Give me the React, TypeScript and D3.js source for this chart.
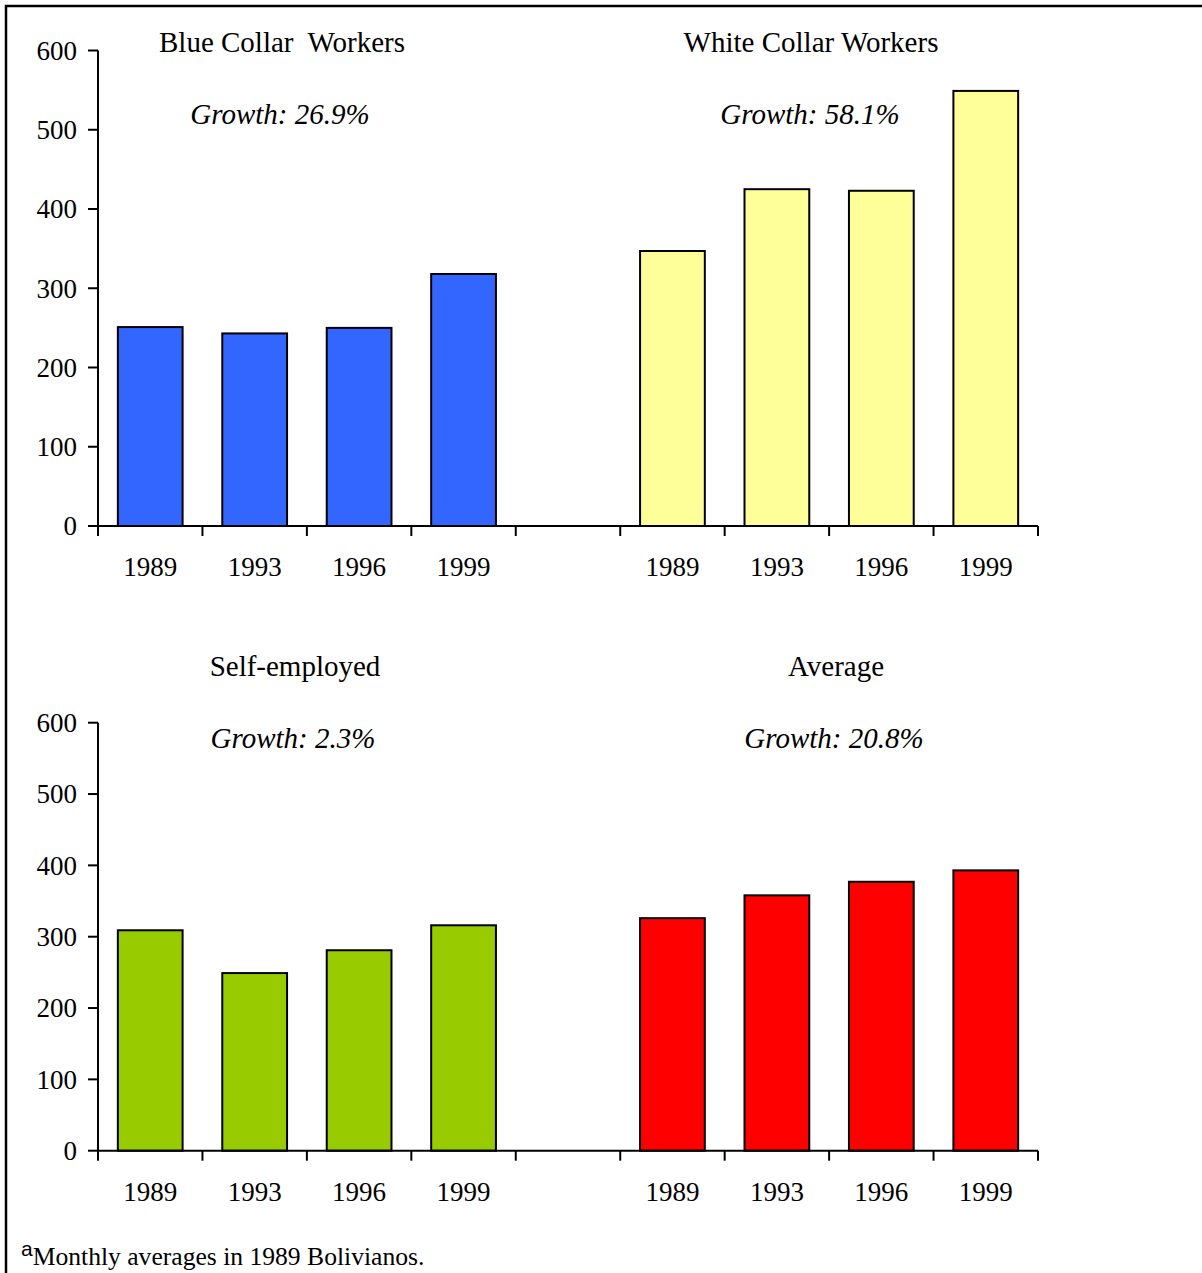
import React from "react";
import * as d3 from "d3";

const years = ["1989", "1993", "1996", "1999"];
const blueCollar = [251, 243, 250, 318];
const whiteCollar = [347, 425, 423, 549];
const selfEmployed = [309, 249, 281, 316];
const average = [326, 358, 377, 393];
const yTicks = [0, 100, 200, 300, 400, 500, 600];

const leftTitles = ["Blue Collar  Workers", "Self-employed"];
const rightTitles = ["White Collar Workers", "Average"];
const leftGrowth = ["Growth: 26.9%", "Growth: 2.3%"];
const rightGrowth = ["Growth: 58.1%", "Growth: 20.8%"];

const FONT = "'Liberation Serif', 'Times New Roman', serif";
const TICK_FS = 27;
const TITLE_FS = 29;

const keys = [...years.map((y) => "L" + y), "gap", ...years.map((y) => "R" + y)];

const x = d3.scaleBand<string>().domain(keys).range([98, 1038]).paddingInner(0.38).paddingOuter(0.19);

type PanelProps = {
  y0: number;
  y1: number;
  left: number[];
  right: number[];
  leftColor: string;
  rightColor: string;
  titleY: number;
  growthY: number;
  lt: string;
  rt: string;
  lg: string;
  rg: string;
  ltX: number;
  rtX: number;
  lgX: number;
  rgX: number;
};

function Panel(p: PanelProps) {
  const y = d3.scaleLinear().domain([0, 600]).range([p.y0, p.y1]);
  const step = x.step();
  const boundaries = d3.range(keys.length + 1).map((i) => 98 + i * step);
  const bars = [
    ...years.map((yr, i) => ({ key: "L" + yr, v: p.left[i], c: p.leftColor, yr })),
    ...years.map((yr, i) => ({ key: "R" + yr, v: p.right[i], c: p.rightColor, yr })),
  ];
  return (
    <g>
      {bars.map((b) => (
        <rect
          key={b.key}
          x={x(b.key)}
          y={y(b.v)}
          width={x.bandwidth()}
          height={y(0) - y(b.v)}
          fill={b.c}
          stroke="#000"
          strokeWidth={2}
        />
      ))}
      <line x1={98} x2={98} y1={y(600)} y2={y(0)} stroke="#000" strokeWidth={2} />
      <line x1={98} x2={1038} y1={y(0)} y2={y(0)} stroke="#000" strokeWidth={2} />
      {yTicks.map((t) => (
        <g key={t}>
          <line x1={88} x2={98} y1={y(t)} y2={y(t)} stroke="#000" strokeWidth={2} />
          <text x={77} y={y(t)} dy="0.35em" textAnchor="end" fontSize={TICK_FS} fontFamily={FONT}>
            {t}
          </text>
        </g>
      ))}
      {boundaries.map((bx, i) => (
        <line key={i} x1={bx} x2={bx} y1={y(0)} y2={y(0) + 10} stroke="#000" strokeWidth={2} />
      ))}
      {bars.map((b) => (
        <text
          key={"t" + b.key}
          x={(x(b.key) as number) + x.bandwidth() / 2}
          y={y(0) + 50}
          textAnchor="middle"
          fontSize={TICK_FS}
          fontFamily={FONT}
        >
          {b.yr}
        </text>
      ))}
      <text x={p.ltX} y={p.titleY} textAnchor="middle" fontSize={TITLE_FS} fontFamily={FONT} style={{ whiteSpace: "pre" }}>
        {p.lt}
      </text>
      <text x={p.rtX} y={p.titleY} textAnchor="middle" fontSize={TITLE_FS} fontFamily={FONT}>
        {p.rt}
      </text>
      <text x={p.lgX} y={p.growthY} textAnchor="middle" fontSize={TITLE_FS} fontStyle="italic" fontFamily={FONT}>
        {p.lg}
      </text>
      <text x={p.rgX} y={p.growthY} textAnchor="middle" fontSize={TITLE_FS} fontStyle="italic" fontFamily={FONT}>
        {p.rg}
      </text>
    </g>
  );
}

export default function App() {
  return (
    <svg
      width={1202}
      height={1273}
      style={{ position: "absolute", left: 0, top: 0, background: "#fff" }}
    >
      <rect x={0} y={0} width={1202} height={1273} fill="#fff" />
      <rect x={6} y={6} width={1220} height={1290} fill="none" stroke="#000" strokeWidth={2.5} />
      <Panel
        y0={526}
        y1={50.5}
        left={blueCollar}
        right={whiteCollar}
        leftColor="#3366FF"
        rightColor="#FFFF99"
        titleY={52}
        growthY={124}
        lt={leftTitles[0]}
        rt={rightTitles[0]}
        lg={leftGrowth[0]}
        rg={rightGrowth[0]}
        ltX={282}
        rtX={811}
        lgX={280}
        rgX={810}
      />
      <Panel
        y0={1150.7}
        y1={722.7}
        left={selfEmployed}
        right={average}
        leftColor="#99CC00"
        rightColor="#FF0000"
        titleY={676}
        growthY={748}
        lt={leftTitles[1]}
        rt={rightTitles[1]}
        lg={leftGrowth[1]}
        rg={rightGrowth[1]}
        ltX={295}
        rtX={836}
        lgX={293}
        rgX={834}
      />
      <text x={21} y={1265} fontSize={25.6} fontFamily={FONT}>
        <tspan fontSize={21} fontFamily="'Liberation Sans', sans-serif" dy={-9}>a</tspan>
        <tspan dy={9}>Monthly averages in 1989 Bolivianos.</tspan>
      </text>
    </svg>
  );
}
